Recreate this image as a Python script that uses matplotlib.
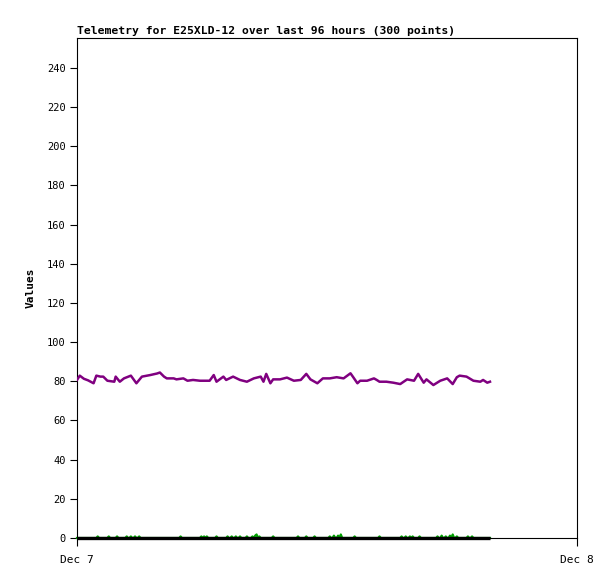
import matplotlib
matplotlib.use("Agg")
import matplotlib.pyplot as plt
import numpy as np

# purple series (index of point, value)
purple_idx = [0, 2, 5, 8, 12, 14, 17, 19, 22, 27, 28, 31, 34, 39, 43, 47, 53, 58, 60,
              63, 65, 70, 72, 77, 80, 84, 89, 96, 99, 101, 106, 108, 113, 118, 123,
              128, 133, 135, 137, 140, 142, 147, 152, 157, 162, 166, 169, 174, 178,
              183, 188, 193, 198, 200, 203, 205, 210, 215, 217, 219, 224, 229, 234,
              239, 244, 247, 251, 253, 258, 263, 268, 272, 275, 277, 282, 287, 292,
              294, 297, 299]
purple_val = [80.7, 82.9, 81.3, 80.5, 79.0, 82.9, 82.4, 82.4, 80.3, 79.8, 82.4, 79.8,
              81.5, 82.9, 79.0, 82.4, 83.2, 84.0, 84.5, 82.4, 81.5, 81.5, 81.0, 81.5,
              80.3, 80.7, 80.3, 80.3, 83.2, 79.8, 82.4, 80.7, 82.4, 80.7, 79.8, 81.5,
              82.4, 79.8, 83.8, 79.0, 81.0, 81.0, 81.9, 80.3, 80.7, 83.8, 81.0, 79.0,
              81.5, 81.5, 82.1, 81.5, 84.1, 82.1, 79.0, 80.3, 80.3, 81.5, 80.7, 79.8,
              79.8, 79.3, 78.6, 81.0, 80.3, 83.8, 79.3, 81.0, 78.1, 80.3, 81.5, 78.6,
              82.1, 82.9, 82.4, 80.3, 79.8, 80.7, 79.3, 79.8]

# green series: zero except for small bumps
green_spike_idx = [15, 23, 29, 36, 39, 42, 45, 75, 90, 92, 94, 101, 109, 112, 115, 118,
                   123, 127, 129, 130, 132, 142, 160, 166, 172, 183, 186, 189, 191, 201,
                   219, 235, 238, 241, 243, 248, 261, 264, 267, 270, 272, 275, 283, 286]
green_spike_val = [0.8, 0.8, 0.8, 0.8, 0.8, 0.8, 0.8, 0.8, 0.8, 0.8, 0.8, 0.8, 0.8,
                   0.8, 0.8, 0.8, 0.8, 0.8, 1.2, 1.8, 0.8, 0.8, 0.8, 0.8, 0.8, 0.8,
                   1.2, 1.2, 1.8, 0.8, 0.8, 0.8, 0.8, 0.8, 0.8, 0.8, 0.8, 1.2, 0.8,
                   1.2, 1.8, 0.8, 0.8, 0.8]

n_points = 300
black_val = [0.0] * n_points

green_val = np.zeros(n_points)
green_val[green_spike_idx] = green_spike_val

x_all = np.arange(n_points)
x_end = 299 * 500 / 413.0
xtick_labels = ["Dec 7", "Dec 8"]
yticks = list(range(0, 241, 20))

fig = plt.figure(figsize=(6.15, 5.79), dpi=100)
ax = fig.add_axes([77 / 615, 1 - 538 / 579, 500 / 615, 500 / 579])

ax.plot(x_all, green_val, color="#00a000", lw=1.6, zorder=2, clip_on=False)
ax.plot(x_all, black_val, color="black", lw=2.4, solid_capstyle="butt", zorder=3, clip_on=False)
ax.plot(purple_idx, purple_val, color="#800080", lw=1.8, zorder=4)

ax.set_xlim(0, x_end)
ax.set_ylim(0, 255.3)
ax.set_xticks([0, x_end])
ax.set_xticklabels(xtick_labels, family="DejaVu Sans Mono", fontsize=8)
ax.set_yticks(yticks)
ax.set_yticklabels([str(v) for v in yticks], family="DejaVu Sans Mono", fontsize=7.5)
ax.tick_params(direction="out", length=5, width=0.8, pad=3)
ax.tick_params(axis="x", length=6, pad=6)
for s in ax.spines.values():
    s.set_linewidth(0.8)

ax.set_ylabel("Values", family="DejaVu Sans Mono", fontweight="bold", fontsize=8, labelpad=8)
ax.set_title("Telemetry for E25XLD-12 over last 96 hours (300 points)",
             loc="left", family="DejaVu Sans Mono", fontweight="bold", fontsize=8.2, pad=3)

fig.savefig("out.png", dpi=100)
